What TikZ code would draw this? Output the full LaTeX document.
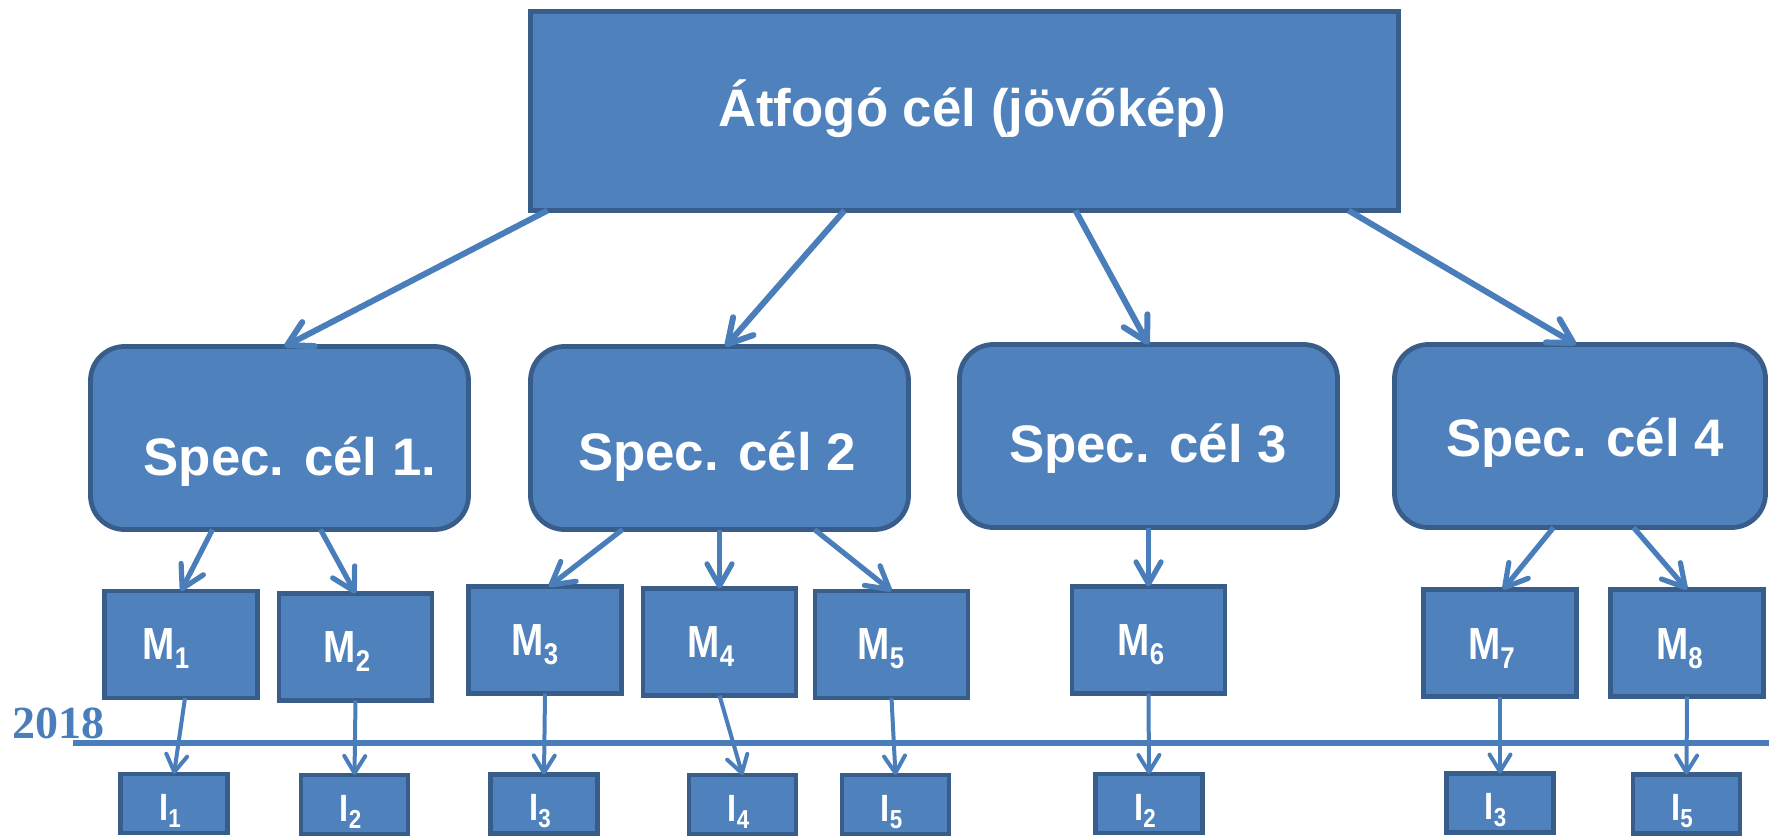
\documentclass[tikz,border=0pt]{standalone}
\usepackage{fontspec}
\setmainfont{Liberation Sans}
\newfontfamily\narrowbold[FakeStretch=0.86]{Liberation Sans Bold}
\newfontfamily\yearfont{Liberation Serif Bold}
\usetikzlibrary{arrows.meta,calc}
\definecolor{boxfill}{HTML}{4F81BD}
\definecolor{boxline}{HTML}{385D8A}
\definecolor{arrowc}{HTML}{4A7EBB}
\newcommand\sublab[2]{{\narrowbold\fontsize{22.5}{22.5}\selectfont #1\raisebox{-4.5pt}{\fontsize{15}{15}\selectfont #2}}}
\newcommand\sublabI[2]{{\narrowbold\fontsize{19}{19}\selectfont #1\raisebox{-3.5pt}{\fontsize{13}{13}\selectfont #2}}}
\tikzset{
 boxbase/.style={draw=boxline, fill=boxfill, line width=2.4pt, inner sep=0pt, outer sep=0pt},
 topbox/.style={boxbase, minimum width=434pt, minimum height=99.5pt},
 specbox/.style={boxbase, rounded corners=17pt, minimum width=189pt, minimum height=91.5pt},
 mbox/.style={boxbase, minimum width=76.5pt, minimum height=53.5pt},
 ibox/.style={boxbase, minimum width=53.5pt, minimum height=29.5pt},
 bigtext/.style={text=white, font=\bfseries\fontsize{26.4}{30}\selectfont, anchor=base, inner sep=0pt},
 smalltext/.style={text=white, anchor=base, inner sep=0pt},
 arrowbig/.style={draw=arrowc, line width=3pt, -{Straight Barb[length=12pt,width=13.5pt,round]}},
 arrowmid/.style={draw=arrowc, line width=2.6pt, -{Straight Barb[length=11pt,width=12.5pt,round]}},
 arrowsmall/.style={draw=arrowc, line width=2pt, -{Straight Barb[length=8.5pt,width=10.5pt,round]}},
 timeline/.style={draw=arrowc, line width=3pt},
}
\begin{document}
\begin{tikzpicture}[x=0.5pt,y=-0.5pt]
\useasboundingbox (0,0) rectangle (1769,836);
% top
\node[topbox] (T) at (964.5,111) {};
\node[bigtext] (Tt) at (972,126) {Átfogó cél (jövőkép)};
% specific goals
\node[specbox] (S1) at (279.5,438) {};
\node[specbox] (S2) at (719.5,438) {};
\node[specbox] (S3) at (1148.5,436) {};
\node[specbox, minimum width=185.5pt] (S4) at (1580,436) {};
\node[bigtext] (S1t) at (290,475) {Spec. cél 1.};
\node[bigtext] (S2t) at (717,470) {Spec. cél 2};
\node[bigtext] (S3t) at (1148,462) {Spec. cél 3};
\node[bigtext] (S4t) at (1585,456) {Spec. cél 4};
% M boxes
\node[mbox] (M1) at (181,644.5) {};
\node[mbox] (M2) at (355.5,647) {};
\node[mbox] (M3) at (545,640) {};
\node[mbox] (M4) at (719.5,642) {};
\node[mbox] (M5) at (891.5,644.5) {};
\node[mbox] (M6) at (1148.5,640) {};
\node[mbox] (M7) at (1500,643) {};
\node[mbox] (M8) at (1687,643) {};
\node[smalltext] (M1t) at (166,659) {\sublab{M}{1}};
\node[smalltext] (M2t) at (347,662) {\sublab{M}{2}};
\node[smalltext] (M3t) at (535,655) {\sublab{M}{3}};
\node[smalltext] (M4t) at (711,657) {\sublab{M}{4}};
\node[smalltext] (M5t) at (881,659) {\sublab{M}{5}};
\node[smalltext] (M6t) at (1141,655) {\sublab{M}{6}};
\node[smalltext] (M7t) at (1491.5,659) {\sublab{M}{7}};
\node[smalltext] (M8t) at (1679.5,659) {\sublab{M}{8}};
% I boxes
\node[ibox] (I1) at (174,803.5) {};
\node[ibox] (I2) at (354.5,804.5) {};
\node[ibox] (I3) at (544,804) {};
\node[ibox] (I4) at (742.5,804.5) {};
\node[ibox] (I5) at (895.5,804.5) {};
\node[ibox] (I2b) at (1149,803.5) {};
\node[ibox] (I3b) at (1500,803) {};
\node[ibox] (I5b) at (1686.5,804) {};
\node[smalltext] (I1t) at (170,820) {\sublabI{I}{1}};
\node[smalltext] (I2t) at (350.5,821) {\sublabI{I}{2}};
\node[smalltext] (I3t) at (540,820) {\sublabI{I}{3}};
\node[smalltext] (I4t) at (738.5,821) {\sublabI{I}{4}};
\node[smalltext] (I5t) at (891.5,821) {\sublabI{I}{5}};
\node[smalltext] (I2bt) at (1145,820) {\sublabI{I}{2}};
\node[smalltext] (I3bt) at (1495.5,819) {\sublabI{I}{3}};
\node[smalltext] (I5bt) at (1682,820) {\sublabI{I}{5}};
% timeline
\coordinate (L0) at (73,743);
\coordinate (L1) at (1769,743);
\draw[timeline] (L0) -- (L1);
\node[anchor=base west, inner sep=0pt, text=arrowc, font=\yearfont\fontsize{23}{23}\selectfont] (Y) at (12,738) {2018};
% arrows top -> spec
\draw[arrowbig] ($(T.south west)+(17,0)$) -- ($(S1.north west)+(194,0)$);
\draw[arrowbig] ($(T.south west)+(314,0)$) -- ($(S2.north west)+(195,0)$);
\draw[arrowbig] ($(T.south west)+(545,0)$) -- (S3.north);
\draw[arrowbig] ($(T.south west)+(818,0)$) -- ($(S4.north)+(-4,0)$);
% spec -> M
\draw[arrowmid] ($(S1.south west)+(122,0)$) -- (M1.north);
\draw[arrowmid] ($(S1.south west)+(230,0)$) -- (M2.north);
\draw[arrowmid] ($(S2.south west)+(92,0)$) -- ($(M3.north)+(4,0)$);
\draw[arrowmid] (S2.south) -- (M4.north);
\draw[arrowmid] ($(S2.south west)+(284,0)$) -- (M5.north);
\draw[arrowmid] (S3.south) -- (M6.north);
\draw[arrowmid] ($(S4.south west)+(159,0)$) -- ($(M7.north)+(3,0)$);
\draw[arrowmid] ($(S4.south west)+(239,0)$) -- (M8.north);
% M -> I
\draw[arrowsmall] ($(M1.south)+(4,0)$) -- (I1.north);
\draw[arrowsmall] (M2.south) -- (I2.north);
\draw[arrowsmall] (M3.south) -- (I3.north);
\draw[arrowsmall] (M4.south) -- (I4.north);
\draw[arrowsmall] (M5.south) -- (I5.north);
\draw[arrowsmall] (M6.south) -- (I2b.north);
\draw[arrowsmall] (M7.south) -- (I3b.north);
\draw[arrowsmall] (M8.south) -- (I5b.north);
\end{tikzpicture}
\end{document}
